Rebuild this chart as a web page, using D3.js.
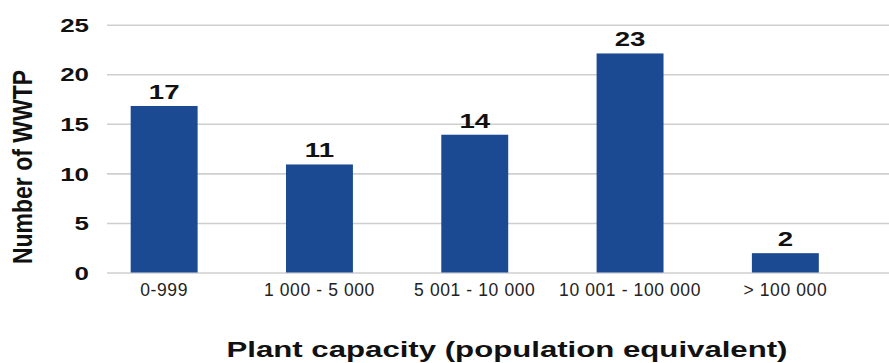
<!DOCTYPE html>
<html>
<head>
<meta charset="utf-8">
<script src="https://cdn.jsdelivr.net/npm/d3@7"></script>
<style>
  body { margin: 0; background: #fff; }
  svg { display: block; font-family: "Liberation Sans", Arial, sans-serif; }
</style>
</head>
<body>
<svg id="chart" width="889" height="363"></svg>
<script>
// chart data
let categories = ["0-999", "1 000 - 5 000", "5 001 - 10 000", "10 001 - 100 000", "> 100 000"];
let counts = [16.8, 10.9, 13.9, 22.1, 1.95];
let countLabels = ["17", "11", "14", "23", "2"];
let yTicks = [0, 5, 10, 15, 20, 25];

const W = 889, H = 363;
const plot = {left: 107, right: 889, top: 24.7, bottom: 272.5};

let svg = d3.select("#chart");

let x = d3.scaleBand()
    .domain(categories)
    .range([86.5, 863])
    .paddingInner(0.569)
    .paddingOuter(0.2845);

let y = d3.scaleLinear()
    .domain([0, 25])
    .range([plot.bottom, plot.top]);

// gridlines + y labels
let yAxis = svg.append("g")
    .attr("transform", `translate(${plot.left},0)`)
    .call(d3.axisLeft(y).tickValues(yTicks).tickSize(-(plot.right - plot.left)).tickPadding(18));
yAxis.select(".domain").remove();
yAxis.selectAll("line").attr("stroke", "#cfcfcf").attr("stroke-width", 1.6);
yAxis.selectAll("text")
    .attr("x", -18 / 1.4)
    .attr("dy", "0.36em")
    .attr("transform", "scale(1.4,1)")
    .style("font-size", "18.5px")
    .style("font-weight", "bold")
    .attr("fill", "#111");

// bars
svg.append("g").selectAll("rect")
    .data(counts)
    .join("rect")
    .attr("x", (d, i) => x(categories[i]))
    .attr("y", d => y(d))
    .attr("width", x.bandwidth())
    .attr("height", d => y(0) - y(d))
    .attr("fill", "#1b4a93");

// value labels
svg.append("g").selectAll("text")
    .data(counts)
    .join("text")
    .attr("transform", (d, i) => `translate(${x(categories[i]) + x.bandwidth() / 2},${y(d) - 7}) scale(1.38,1)`)
    .attr("text-anchor", "middle")
    .style("font-size", "20px")
    .style("font-weight", "bold")
    .attr("fill", "#111")
    .text((d, i) => countLabels[i]);

// x axis labels
let xAxis = svg.append("g")
    .attr("transform", `translate(0,${plot.bottom})`)
    .call(d3.axisBottom(x).tickSize(0).tickPadding(10.8));
xAxis.select(".domain").remove();
xAxis.selectAll("text")
    .style("font-size", "17.5px")
    .style("letter-spacing", "0.6px")
    .attr("fill", "#222");

// axis titles
svg.append("text")
    .attr("transform", "translate(31.5,167) rotate(-90) scale(1.15,1.35)")
    .attr("text-anchor", "middle")
    .style("font-size", "20px")
    .style("font-weight", "bold")
    .attr("fill", "#111")
    .text("Number of WWTP");

svg.append("text")
    .attr("transform", "translate(507,357) scale(1.45,1)")
    .attr("text-anchor", "middle")
    .style("font-size", "21.5px")
    .style("font-weight", "bold")
    .attr("fill", "#111")
    .text("Plant capacity (population equivalent)");
</script>
</body>
</html>
